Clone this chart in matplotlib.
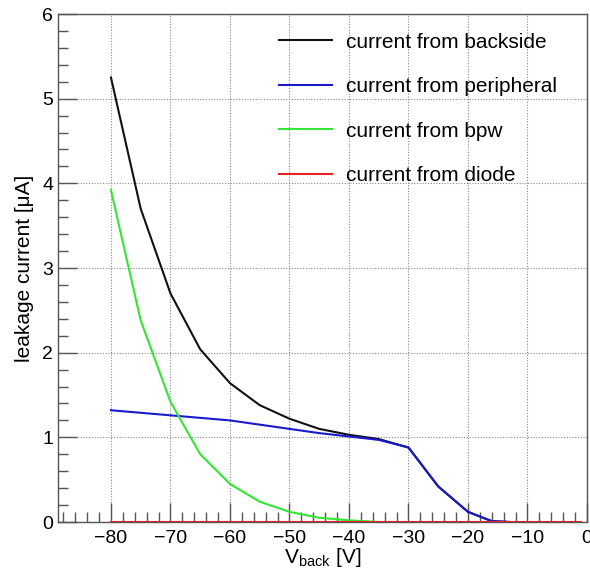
import matplotlib.pyplot as plt
from matplotlib.ticker import MultipleLocator

# values
v_backside = [-80, -75, -70, -65, -60, -55, -50, -45, -40, -35, -30, -25, -20, -16, -13]
i_backside = [5.25, 3.70, 2.70, 2.04, 1.64, 1.38, 1.22, 1.10, 1.03, 0.98, 0.88, 0.42, 0.12, 0.01, 0.0]

v_peripheral = [-80, -75, -70, -65, -60, -55, -50, -45, -40, -35, -30, -25, -20, -16, -13]
i_peripheral = [1.32, 1.29, 1.26, 1.23, 1.20, 1.15, 1.10, 1.05, 1.01, 0.97, 0.88, 0.42, 0.12, 0.01, 0.0]

v_bpw = [-80, -75, -70, -65, -60, -55, -50, -45, -40, -35]
i_bpw = [3.92, 2.38, 1.42, 0.80, 0.45, 0.24, 0.12, 0.05, 0.02, 0.0]

v_diode = [-80, -1]
i_diode = [0.0, 0.0]

labels = ["current from backside", "current from peripheral", "current from bpw", "current from diode"]
colors = ["#111111", "#1a1acc", "#33e633", "#e62222"]

plt.rcParams['font.family'] = ['Liberation Sans', 'DejaVu Sans']
plt.rcParams['mathtext.fontset'] = 'custom'
plt.rcParams['mathtext.rm'] = 'Liberation Sans'
plt.rcParams['mathtext.it'] = 'Liberation Sans'

fig = plt.figure(figsize=(5.9, 5.7), dpi=100)
ax = fig.add_axes([0.0983, 0.0842, 0.8966, 0.8912])

series = [(v_backside, i_backside), (v_peripheral, i_peripheral), (v_bpw, i_bpw), (v_diode, i_diode)]
for (x, y), lab, c in zip(series, labels, colors):
    ax.plot(x, y, color=c, lw=1.5, label=lab, zorder=3)

ax.set_xlim(-88.9, 0)
ax.set_ylim(0, 6)
ax.xaxis.set_major_locator(MultipleLocator(10))
ax.xaxis.set_minor_locator(MultipleLocator(2))
ax.yaxis.set_major_locator(MultipleLocator(1))
ax.yaxis.set_minor_locator(MultipleLocator(0.2))
ax.tick_params(which='both', direction='in', top=False, right=False, colors='#555555',
               labelcolor='black', labelsize=14)
ax.tick_params(which='major', length=14, width=1)
ax.tick_params(which='minor', length=7, width=1)
ax.tick_params(axis='x', pad=6)
ax.grid(True, which='major', color='#888888', linestyle=(0, (1, 1.5)), lw=0.8, zorder=0)
for s in ax.spines.values():
    s.set_color('#555555')
    s.set_linewidth(1)

ax.set_xlabel(r'V$_{\mathrm{back}}$ [V]', fontsize=15, labelpad=-1)
ax.set_ylabel('leakage current [\u03bcA]', fontsize=15, labelpad=6)

leg = ax.legend(loc='upper left', bbox_to_anchor=(0.383, 1.0), frameon=False, fontsize=15,
                handlelength=2.55, handletextpad=0.63, labelspacing=1.22)

fig.savefig('out.png', dpi=100)
